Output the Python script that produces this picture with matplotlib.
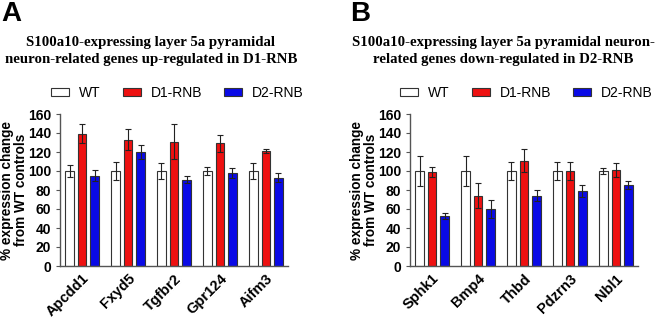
import numpy as np
import matplotlib.pyplot as plt
from matplotlib.patches import Patch

groups = ["WT", "D1-RNB", "D2-RNB"]
colors = ["white", "#ee1111", "#0a0ae6"]

genes_a = ["Apcdd1", "Fxyd5", "Tgfbr2", "Gpr124", "Aifm3"]
wt_a = [100, 100, 100, 100, 100]
wt_a_err = [6, 9, 8, 4, 8]
d1_a = [139, 133, 131, 129, 121]
d1_a_err = [10, 11, 18, 9, 2]
d2_a = [95, 120, 91, 98, 93]
d2_a_err = [6, 7, 4, 5, 5]

genes_b = ["Sphk1", "Bmp4", "Thbd", "Pdzrn3", "Nbl1"]
wt_b = [100, 100, 100, 100, 100]
wt_b_err = [16, 16, 9, 9, 3]
d1_b = [99, 74, 111, 100, 101]
d1_b_err = [5, 13, 12, 9, 7]
d2_b = [53, 60, 74, 79, 85]
d2_b_err = [3, 9, 6, 6, 4]

plt.rcParams['font.family'] = ['Liberation Sans', 'DejaVu Sans']
plt.rcParams['font.weight'] = 'bold'

fig = plt.figure(figsize=(6.58, 3.19), dpi=100)
W, H = 658, 319

def panel(left, genes, vals, errs, title, tx, letter, lx, legx):
    ax = fig.add_axes([left / W, (H - 266) / H, 228 / W, 152 / H])
    x = np.arange(len(genes))
    off = 0.272
    for k in range(3):
        ax.bar(x + (k - 1) * off, vals[k], width=0.18, color=colors[k],
               edgecolor="#333333", linewidth=0.8, zorder=2)
        ax.errorbar(x + (k - 1) * off, vals[k], yerr=errs[k], fmt="none",
                    ecolor="#222222", elinewidth=0.8, capsize=2.5,
                    capthick=0.8, zorder=3)
    ax.set_xlim(-0.48, 4.48)
    ax.set_ylim(0, 160)
    ax.set_yticks(range(0, 161, 20))
    ax.set_xticks(x)
    ax.set_xticklabels(genes, rotation=45, ha="right", rotation_mode="anchor",
                       fontsize=10.5, fontweight="bold")
    ax.tick_params(axis="x", length=0, pad=4)
    ax.tick_params(axis="y", labelsize=10, length=3, width=0.8, color="#555555")
    for lab in ax.get_yticklabels():
        lab.set_fontweight("bold")
    for s in ["top", "right"]:
        ax.spines[s].set_visible(False)
    for s in ["left", "bottom"]:
        ax.spines[s].set_color("#555555")
        ax.spines[s].set_linewidth(1.0)
    ax.set_ylabel("% expression change\nfrom WT controls", fontsize=9.8,
                  fontweight="bold", linespacing=1.0)
    ax.yaxis.set_label_coords(-0.142, 0.5)
    handles = [Patch(facecolor=colors[k], edgecolor="#333333", linewidth=0.8,
                     label=groups[k]) for k in range(3)]
    ax.legend(handles=handles, ncol=3, loc="center",
              bbox_to_anchor=(legx, 1 + 21 / 152), frameon=False,
              handlelength=1.3, handleheight=0.55, columnspacing=1.6,
              handletextpad=0.7, prop={"weight": "normal", "size": 10})
    fig.text(tx / W, 1 - 51 / H, title, ha="center", va="center",
             fontsize=10.7, fontweight="bold", family="Liberation Serif",
             linespacing=1.45)
    fig.text(lx / W, 1 - 14 / H, letter, ha="left", va="center",
             fontsize=20, fontweight="bold")
    return ax

panel(60, genes_a, [wt_a, d1_a, d2_a], [wt_a_err, d1_a_err, d2_a_err],
      "S100a10-expressing layer 5a pyramidal\nneuron-related genes up-regulated in D1-RNB",
      151, "A", 1, 0.515)
panel(410, genes_b, [wt_b, d1_b, d2_b], [wt_b_err, d1_b_err, d2_b_err],
      "S100a10-expressing layer 5a pyramidal neuron-\nrelated genes down-regulated in D2-RNB",
      503, "B", 350, 0.511)

fig.savefig("out.png", dpi=100)
